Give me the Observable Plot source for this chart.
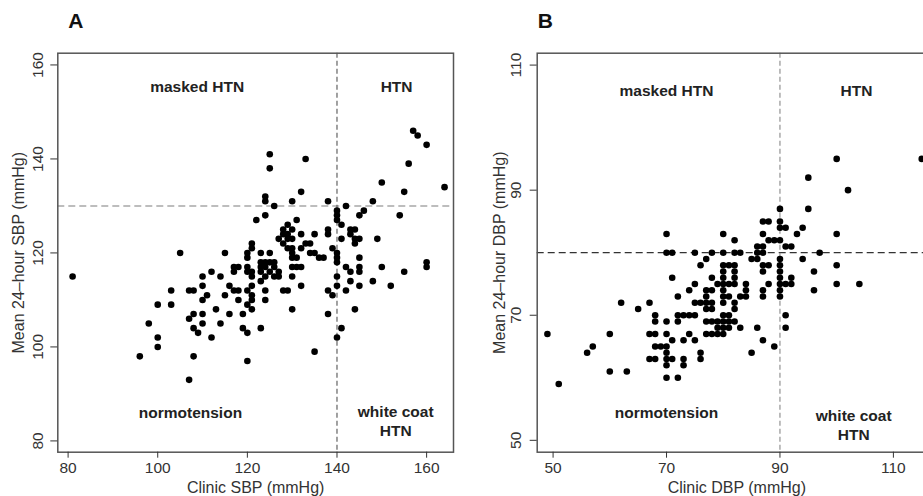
<!DOCTYPE html>
<html>
<head>
<meta charset="utf-8">
<script src="https://cdn.jsdelivr.net/npm/d3@7"></script>
<script src="https://cdn.jsdelivr.net/npm/@observablehq/plot@0.6"></script>
<style>
  html, body { margin: 0; padding: 0; background: #fff; }
  #wrap { position: relative; width: 923px; height: 496px; overflow: hidden; background: #fff; }
  #pa { position: absolute; left: 0; top: 0; width: 460px; height: 496px; }
  #pb { position: absolute; left: 460px; top: 0; width: 480px; height: 496px; }
  #wrap svg { max-width: none !important; display: block; }
</style>
</head>
<body>
<div id="wrap"><div id="pa"></div><div id="pb"></div></div>
<script>
// Panel A: [clinic SBP, mean 24-hour SBP] (mmHg)
const sbpPairs = [
  [81,115],[96,98],[98,105],[100,102],[100,100],[100,109],[103,112],[103,109],[105,120],[107,93],
  [107,112],[108,112],[107,106],[108,107],[108,104],[109,103],[108,98],[110,107],[110,105],[110,110],
  [110,113],[110,115],[111,111],[112,102],[112,116],[113,108],[114,115],[114,105],[115,120],[115,111],
  [116,113],[116,107],[117,117],[118,117],[117,112],[118,112],[118,110],[119,107],[119,104],[120,103],
  [120,97],[120,109],[120,112],[120,116],[120,119],[120,120],[120,117],[121,122],[121,113],[121,110],
  [121,108],[121,116],[121,115],[122,127],[123,120],[123,104],[123,114],[123,117],[124,112],[124,110],
  [124,128],[124,132],[124,131],[124,115],[124,118],[125,141],[125,138],[125,120],[125,116],[125,118],
  [126,130],[126,117],[127,115],[127,116],[128,112],[129,112],[128,124],[128,125],[129,126],[129,124],
  [130,125],[130,131],[130,108],[130,115],[130,119],[130,121],[131,127],[131,119],[131,117],[129,123],
  [129,121],[132,133],[132,124],[132,113],[132,117],[133,140],[133,122],[134,122],[135,124],[135,120],
  [135,99],[136,119],[137,119],[138,131],[138,125],[138,124],[138,112],[138,107],[139,111],[139,121],
  [140,129],[140,128],[140,127],[140,120],[140,118],[140,115],[140,113],[140,102],[141,104],[141,126],
  [142,130],[142,117],[142,112],[141,123],[143,114],[143,125],[143,124],[144,125],[144,122],[144,108],
  [145,123],[145,128],[146,129],[145,119],[145,116],[145,113],[148,131],[148,114],[149,123],[150,135],
  [150,117],[152,113],[154,128],[155,133],[155,116],[156,139],[157,146],[158,145],[160,143],[160,118],
  [160,117],[164,134],[127,123],[130,123],[128,122],[132,121],[130,120],[134,120],[140,119],[144,123],
  [145,117],[143,116],[126,118],[123,116],[121,121],[117,116],[123,118],[124,117],[126,115],[130,117],
  [121,111]
];

// Panel B: [clinic DBP, mean 24-hour DBP] (mmHg)
const dbpPairs = [
  [49,67],[51,59],[56,64],[57,65],[60,67],[60,61],[63,61],[62,72],[65,71],[67,72],
  [67,67],[68,67],[67,63],[68,63],[68,70],[68,69],[68,65],[69,65],[70,65],[70,69],
  [70,67],[70,64],[70,63],[70,62],[70,60],[72,60],[70,83],[70,80],[71,80],[71,76],
  [71,66],[71,63],[72,73],[72,70],[72,69],[73,70],[74,70],[75,70],[73,66],[73,63],
  [73,62],[74,67],[74,74],[75,75],[75,66],[75,80],[75,72],[76,72],[76,64],[76,63],
  [76,78],[77,79],[77,74],[77,73],[77,72],[77,71],[78,72],[78,71],[77,69],[78,69],
  [79,69],[77,67],[78,67],[79,67],[79,68],[78,80],[78,76],[79,75],[80,83],[80,80],
  [80,78],[80,77],[80,76],[80,75],[81,78],[82,78],[82,77],[82,76],[82,75],[81,75],
  [80,74],[80,73],[80,72],[81,73],[82,72],[82,71],[80,70],[81,70],[82,69],[80,68],
  [81,68],[80,67],[81,69],[80,69],[82,82],[82,80],[83,80],[83,68],[84,75],[84,74],
  [84,73],[83,73],[85,79],[86,79],[85,64],[86,80],[86,81],[87,81],[87,80],[86,68],
  [87,85],[88,85],[87,83],[87,78],[87,77],[87,74],[87,73],[88,78],[88,75],[87,66],
  [88,82],[89,82],[90,82],[89,65],[90,87],[90,85],[90,84],[91,84],[90,79],[90,78],
  [90,77],[90,76],[90,75],[90,74],[90,73],[91,75],[92,75],[92,76],[91,70],[91,68],
  [91,81],[92,81],[93,83],[94,84],[94,79],[95,92],[95,87],[96,77],[96,74],[97,80],
  [100,95],[100,83],[100,78],[100,75],[102,90],[104,75],[115,95],[78,74]
];

const sbpXTicks = [80, 100, 120, 140, 160];
const sbpYTicks = [80, 100, 120, 140, 160];
const dbpXTicks = [50, 70, 90, 110];
const dbpYTicks = [50, 70, 90, 110];

const sbpLabels = [
  {text: "masked HTN", x: 108.8, y: 155.6},
  {text: "HTN", x: 153.3, y: 155.6},
  {text: "normotension", x: 107.3, y: 86.1},
  {text: "white coat\nHTN", x: 153.1, y: 84.3}
];
const dbpLabels = [
  {text: "masked HTN", x: 70, y: 106},
  {text: "HTN", x: 103.5, y: 106},
  {text: "normotension", x: 70, y: 54.5},
  {text: "white coat\nHTN", x: 103, y: 52.6}
];

const FONT = "'Liberation Sans', Arial, Helvetica, sans-serif";

function panel(o) {
  const data = o.pairs.map(([x, y]) => ({x, y}));
  return Plot.plot({
    width: o.width,
    height: 496,
    marginLeft: o.marginLeft,
    marginRight: o.marginRight,
    marginTop: 52.7,
    marginBottom: 44.3,
    style: {fontFamily: FONT, fontSize: "15.5px", background: "transparent", overflow: "visible", maxWidth: "none"},
    x: {domain: o.xDomain},
    y: {domain: o.yDomain},
    marks: [
      Plot.ruleY([o.refY], {stroke: o.refYStroke, strokeDasharray: o.refYDash, strokeWidth: o.refYWidth}),
      Plot.ruleX([o.refX], {stroke: o.refXStroke, strokeDasharray: o.refXDash, strokeWidth: o.refXWidth}),
      Plot.dot(data, {x: "x", y: "y", r: 3.3, fill: "#000", stroke: "none"}),
      Plot.frame({stroke: "#555", strokeWidth: 1.5}),
      Plot.axisX({ticks: o.xTicks, tickSize: 6, tickPadding: 4, fontSize: 15.5, label: null, color: "#333"}),
      Plot.axisY({ticks: o.yTicks, tickSize: 7, tickFormat: () => "", label: null, color: "#333"}),
      Plot.text(o.yTicks, {y: d => d, text: d => String(d), frameAnchor: "left", dx: o.yTickDx,
        rotate: -90, textAnchor: "middle", lineAnchor: "middle", fontSize: 15.5, fill: "#333"}),
      Plot.text([o.xLabel], {frameAnchor: "bottom", dy: 35.5, lineAnchor: "middle", fontSize: 16, fill: "#333"}),
      Plot.text([o.yLabel], {frameAnchor: "left", dx: o.yTitleDx, rotate: -90, textAnchor: "middle",
        lineAnchor: "middle", fontSize: 16, fill: "#333"}),
      Plot.text(o.labels, {x: "x", y: "y", text: "text", fontWeight: "bold", fontSize: 15.5,
        fill: "#222", lineHeight: 1.23, lineAnchor: "middle"}),
      Plot.text([o.letter], {frameAnchor: "top-left", dx: o.letterDx, dy: -32, textAnchor: "start",
        lineAnchor: "middle", fontSize: 21, fontWeight: "bold", fill: "#111"})
    ]
  });
}

document.getElementById("pa").append(panel({
  pairs: sbpPairs, width: 460, marginLeft: 57.3, marginRight: 7,
  xDomain: [77.7, 166], yDomain: [77.6, 162.5], xTicks: sbpXTicks, yTicks: sbpYTicks,
  refX: 140, refXStroke: "#555", refXDash: "5,3", refXWidth: 1.1,
  refY: 130, refYStroke: "#a8a8a8", refYDash: "7,4", refYWidth: 1.5,
  xLabel: "Clinic SBP (mmHg)", yLabel: "Mean 24\u2013hour SBP (mmHg)",
  yTickDx: -20, yTitleDx: -39.3, labels: sbpLabels, letter: "A", letterDx: 10.5
}));

document.getElementById("pb").append(panel({
  pairs: dbpPairs, width: 480, marginLeft: 76.7, marginRight: 4,
  xDomain: [47.2, 117.6], yDomain: [48.1, 111.9], xTicks: dbpXTicks, yTicks: dbpYTicks,
  refX: 90, refXStroke: "#888", refXDash: "5,3", refXWidth: 1.1,
  refY: 80, refYStroke: "#333", refYDash: "7,4", refYWidth: 1.2,
  xLabel: "Clinic DBP (mmHg)", yLabel: "Mean 24\u2013hour DBP (mmHg)",
  yTickDx: -21.2, yTitleDx: -37.4, labels: dbpLabels, letter: "B", letterDx: 0.6
}));
</script>
</body>
</html>
